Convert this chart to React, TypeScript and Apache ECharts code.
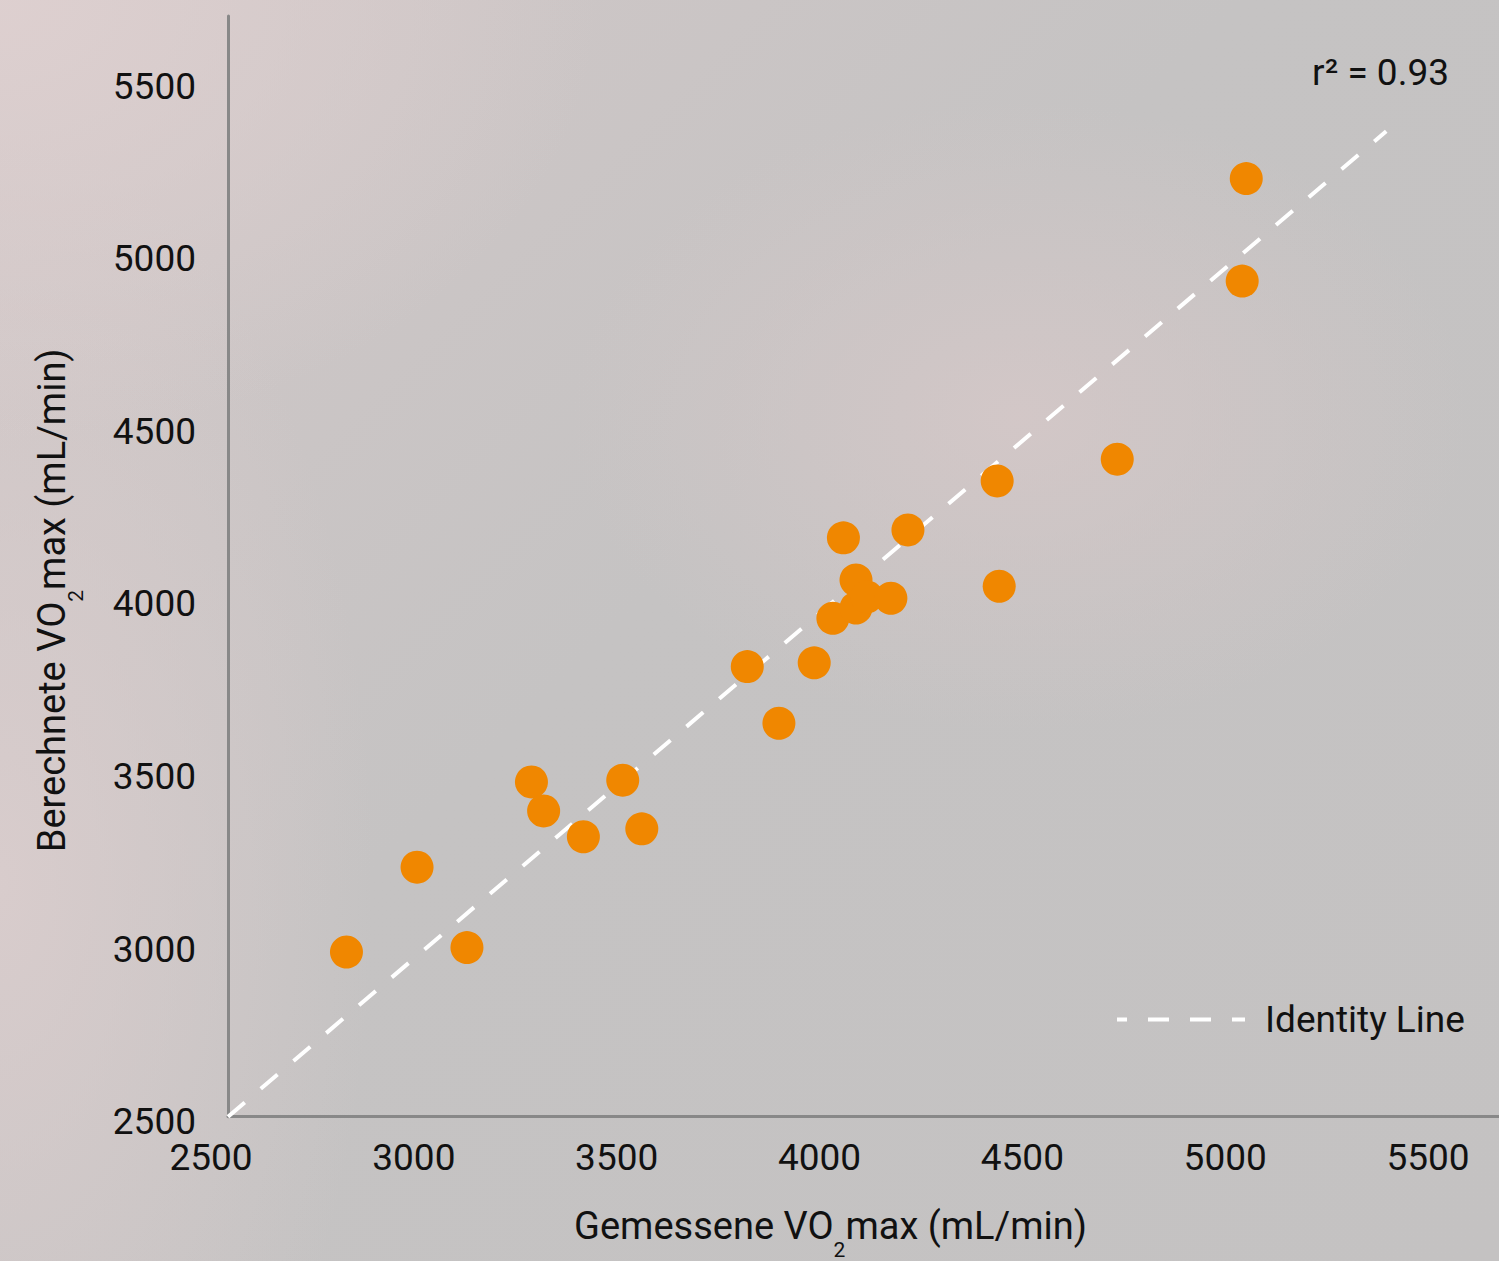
import React, { useEffect, useRef } from "react";
import * as echarts from "echarts";

// Measured (Gemessene) vs calculated (Berechnete) VO2max, mL/min
const measured = [2792, 2966, 3089, 3248, 3278, 3376, 3473, 3520, 3780, 3858, 3945, 3991, 4017, 4048, 4048, 4075, 4134, 4176, 4396, 4401, 4692, 5000, 5010];
const calculated = [2977, 3223, 2990, 3470, 3386, 3311, 3475, 3334, 3804, 3640, 3815, 3944, 4177, 4055, 3974, 4006, 4002, 4200, 4342, 4037, 4405, 4921, 5218];
const identityEnds = [2500, 5355];
const axisMin = 2500;
const tickStep = 500;
const xAxisMax = 5633;
const yAxisMax = 5689;
const rSquaredText = "r² = 0.93";
const legendName = "Identity Line";
const xTitle = "Gemessene VO{sub|2}max (mL/min)";
const yTitle = "Berechnete VO{sub|2}max (mL/min)";

const FONT = "Roboto";
const TEXT = "#111111";

export default function App() {
  const ref = useRef<HTMLDivElement>(null);

  useEffect(() => {
    document.body.style.margin = "0";
    const chart = echarts.init(ref.current!, null, { renderer: "svg" });
    const subRich = {
      sub: { fontSize: 21, fontFamily: FONT, color: TEXT, padding: [48, 0, 0, 0] },
    };
    const points = measured.map((m, i) => [m, calculated[i]]);
    const line = identityEnds.map((v) => [v, v]);
    const plain = (v: number) => String(v);
    const yLabel = (v: number) => `{t|${v}}`;

    chart.setOption({
      animation: false,
      backgroundColor: "transparent",
      textStyle: { fontFamily: FONT },
      grid: {
        left: 228,
        right: 0,
        top: 16,
        bottom: 144.3,
        containLabel: false,
        outerBoundsMode: "none",
      },
      legend: {
        left: 1115,
        top: 1001,
        padding: 0,
        itemWidth: 128,
        itemHeight: 20,
        data: [{ name: legendName }],
        itemStyle: { opacity: 0 },
        lineStyle: { type: [21, 21], dashOffset: 11, width: 4, color: "#ffffff" },
        textStyle: { fontSize: 37, color: TEXT, fontFamily: FONT, padding: [0, 0, 0, 15] },
      },
      xAxis: {
        type: "value",
        min: axisMin,
        max: xAxisMax,
        interval: tickStep,
        name: xTitle,
        nameLocation: "middle",
        nameGap: 74.5,
        nameTextStyle: {
          fontSize: 38,
          color: TEXT,
          fontFamily: FONT,
          padding: [0, 66, 0, 0],
          rich: subRich,
        },
        axisLine: { show: true, lineStyle: { color: "#888888", width: 3 } },
        axisTick: { show: false },
        splitLine: { show: false },
        axisLabel: {
          fontSize: 37,
          color: TEXT,
          fontFamily: FONT,
          margin: 22,
          padding: [0, 34, 0, 0],
          showMaxLabel: false,
          formatter: plain,
        },
      },
      yAxis: {
        type: "value",
        min: axisMin,
        max: yAxisMax,
        interval: tickStep,
        name: yTitle,
        nameLocation: "middle",
        nameRotate: 90,
        nameGap: 141.5,
        nameTextStyle: {
          fontSize: 38,
          color: TEXT,
          fontFamily: FONT,
          padding: [0, 68, 0, 0],
          rich: subRich,
        },
        axisLine: { show: true, lineStyle: { color: "#888888", width: 3 } },
        axisTick: { show: false },
        splitLine: { show: false },
        axisLabel: {
          color: TEXT,
          fontFamily: FONT,
          margin: 32,
          showMaxLabel: false,
          formatter: yLabel,
          rich: {
            t: { fontSize: 37, fontFamily: FONT, color: TEXT, padding: [10, 0, 0, 0] },
          },
        },
      },
      graphic: [
        {
          type: "text",
          right: 50,
          top: 54,
          style: { text: rSquaredText, fontSize: 37, fontFamily: FONT, fill: TEXT },
        },
      ],
      series: [
        {
          name: legendName,
          type: "line",
          data: line,
          symbol: "none",
          silent: true,
          itemStyle: { color: "#ffffff" },
          lineStyle: { color: "#ffffff", width: 4, type: [22, 21] },
          z: 1,
        },
        {
          name: "Messwerte",
          type: "scatter",
          data: points,
          symbol: "circle",
          symbolSize: 33,
          itemStyle: { color: "#f08700", opacity: 1 },
          z: 2,
        },
      ],
    });
    return () => chart.dispose();
  }, []);

  return (
    <div
      ref={ref}
      style={{
        position: "fixed",
        left: 0,
        top: 0,
        width: 1499,
        height: 1261,
        background:
          "radial-gradient(ellipse 40% 35% at 0% 0%, rgba(222,208,208,0.95), rgba(222,208,208,0) 100%), radial-gradient(ellipse 30% 25% at 68% 33%, rgba(214,200,200,0.8), rgba(214,200,200,0) 100%), radial-gradient(ellipse 25% 60% at 0% 70%, rgba(218,205,205,0.9), rgba(218,205,205,0) 100%), linear-gradient(135deg, #d2c8c8 0%, #c5c3c3 45%, #c4c2c2 100%)",
      }}
    />
  );
}
